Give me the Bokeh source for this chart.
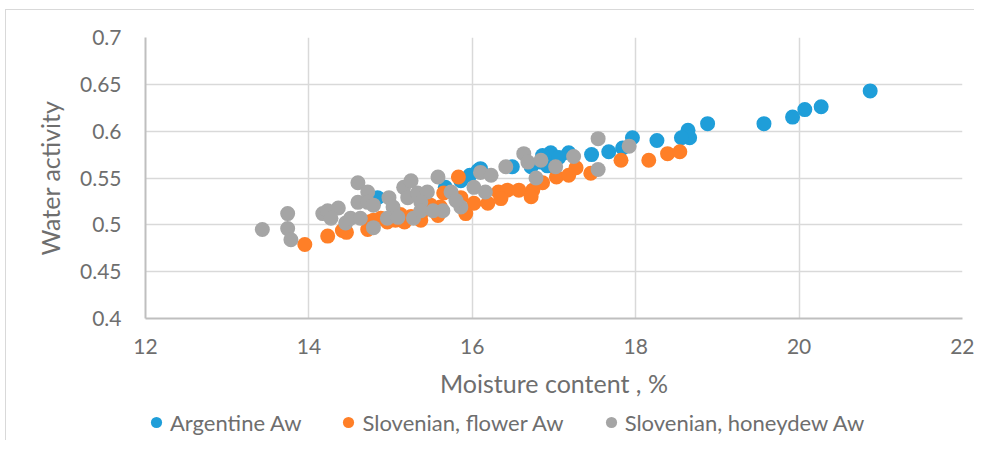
from bokeh.plotting import figure
from bokeh.layouts import column
from bokeh.models import Range1d, FixedTicker, Legend, LegendItem
from bokeh.embed import file_html
from bokeh.resources import INLINE

# ---- data ----
arg_moisture = [20.87, 20.27, 20.07, 19.92, 19.57, 18.88, 18.64, 18.66, 18.56, 18.26,
                17.96, 17.84, 17.67, 17.46, 17.18, 16.96, 16.86, 17.06, 16.92, 16.49,
                16.72, 16.07, 15.97, 15.86, 15.67, 14.84, 16.10, 16.84]
arg_aw = [0.643, 0.626, 0.623, 0.615, 0.608, 0.608, 0.601, 0.593, 0.593, 0.590,
          0.593, 0.582, 0.578, 0.575, 0.577, 0.577, 0.574, 0.572, 0.563, 0.562,
          0.562, 0.558, 0.553, 0.547, 0.540, 0.529, 0.560, 0.567]

flower_moisture = [13.95, 14.23, 14.41, 14.46, 14.72, 14.73, 14.88, 15.06, 15.17, 15.25,
                   15.37, 15.40, 15.58, 15.61, 15.65, 15.83, 15.86, 16.02, 16.19, 15.92,
                   16.32, 16.43, 16.57, 16.74, 16.86, 17.03, 17.18, 17.27, 17.45, 17.82,
                   18.16, 18.39, 18.54, 16.35, 16.72, 14.79, 14.96, 15.12, 15.49]
flower_aw = [0.479, 0.488, 0.494, 0.492, 0.495, 0.503, 0.507, 0.505, 0.503, 0.509,
             0.505, 0.515, 0.510, 0.519, 0.534, 0.551, 0.529, 0.523, 0.523, 0.512,
             0.535, 0.537, 0.537, 0.537, 0.545, 0.551, 0.553, 0.561, 0.555, 0.569,
             0.569, 0.576, 0.578, 0.528, 0.530, 0.505, 0.503, 0.511, 0.521]

honeydew_moisture = [13.43, 13.74, 13.74, 13.78, 14.17, 14.23, 14.36, 14.27, 14.45, 14.60,
                     14.72, 14.60, 14.72, 14.79, 14.51, 14.63, 14.79, 14.98, 15.03, 14.96,
                     15.16, 15.25, 15.21, 15.33, 15.45, 15.37, 15.09, 15.28, 15.37, 15.58,
                     15.74, 15.64, 15.52, 15.86, 16.02, 16.10, 16.16, 16.23, 16.41, 16.63,
                     16.68, 16.84, 16.78, 17.02, 17.24, 17.54, 17.54, 17.92, 15.80]
honeydew_aw = [0.495, 0.512, 0.496, 0.484, 0.512, 0.515, 0.518, 0.507, 0.502, 0.545,
               0.535, 0.524, 0.524, 0.521, 0.507, 0.507, 0.497, 0.529, 0.519, 0.507,
               0.540, 0.547, 0.529, 0.534, 0.535, 0.524, 0.508, 0.507, 0.515, 0.551,
               0.535, 0.515, 0.515, 0.519, 0.540, 0.556, 0.535, 0.553, 0.562, 0.576,
               0.567, 0.569, 0.550, 0.562, 0.573, 0.592, 0.559, 0.584, 0.526]

x_ticks = [12, 14, 16, 18, 20, 22]
y_ticks = [0.4, 0.45, 0.5, 0.55, 0.6, 0.65, 0.7]
y_tick_labels = ["0.4", "0.45", "0.5", "0.55", "0.6", "0.65", "0.7"]

series_names = ["Argentine Aw", "Slovenian, flower Aw", "Slovenian, honeydew Aw"]
colors = ["#1f9ed9", "#ff7f27", "#a5a5a5"]

series = [(arg_moisture, arg_aw), (flower_moisture, flower_aw), (honeydew_moisture, honeydew_aw)]

FONT = "Lato"
TEXT = "#6e6e6e"

# ---- main chart ----
p = figure(width=968, height=395, output_backend="svg", toolbar_location=None,
           x_range=Range1d(12, 22), y_range=Range1d(0.4, 0.7),
           min_border_left=139, min_border_right=12, min_border_top=27, min_border_bottom=87)
p.outline_line_color = None
p.background_fill_color = "white"
p.border_fill_color = "white"

for (xs, ys), c in zip(series, colors):
    p.scatter(xs, ys, size=15, color=c, line_color=None)

for ax in (p.xaxis[0], p.yaxis[0]):
    ax.axis_line_color = "#bfbfbf"
    ax.axis_line_width = 2
    ax.major_tick_in = 0
    ax.major_tick_out = 0
    ax.minor_tick_in = 0
    ax.minor_tick_out = 0
    ax.major_label_text_font = FONT
    ax.major_label_text_font_size = "21px"
    ax.major_label_text_color = TEXT
    ax.axis_label_text_font = FONT
    ax.axis_label_text_font_size = "25px"
    ax.axis_label_text_color = TEXT
    ax.axis_label_text_font_style = "normal"

p.xaxis.ticker = FixedTicker(ticks=x_ticks)
p.yaxis.ticker = FixedTicker(ticks=y_ticks)
p.yaxis.major_label_overrides = {t: l for t, l in zip(y_ticks, y_tick_labels)}
p.xaxis.axis_label = "Moisture content , %"
p.yaxis.axis_label = "Water activity"
p.xaxis.major_label_standoff = 20
p.yaxis.major_label_standoff = 24
p.xaxis.axis_label_standoff = 11
p.yaxis.axis_label_standoff = 12

p.xgrid.ticker = FixedTicker(ticks=x_ticks)
p.ygrid.ticker = FixedTicker(ticks=y_ticks)
p.grid.grid_line_color = "#d9d9d9"
p.grid.grid_line_width = 1.5

# ---- legend strip (series drawn off-range so only the legend shows) ----
lg = figure(width=968, height=35, output_backend="svg", toolbar_location=None,
            x_range=Range1d(0, 1), y_range=Range1d(0, 1),
            x_axis_type=None, y_axis_type=None, min_border=0)
lg.outline_line_color = None
lg.grid.visible = False
lg.border_fill_color = "white"
items = []
for (xs, ys), c, name in zip(series, colors, series_names):
    r = lg.scatter(xs, ys, size=15, color=c, line_color=None)
    items.append(LegendItem(label=name, renderers=[r]))

legend = Legend(items=items, orientation="horizontal", location=(-3, 4),
                glyph_width=28, glyph_height=28, label_standoff=0, spacing=33,
                padding=0, margin=0, border_line_color=None, background_fill_alpha=0,
                label_text_font=FONT, label_text_font_size="22px", label_text_color=TEXT)
lg.add_layout(legend, "center")

layout = column(p, lg, spacing=0)
layout.styles = {"margin-left": "5px", "margin-top": "9px",
                 "border-top": "1px solid #d9d9d9", "border-left": "1px solid #d9d9d9"}
open("out.html", "w").write(file_html(layout, INLINE))
